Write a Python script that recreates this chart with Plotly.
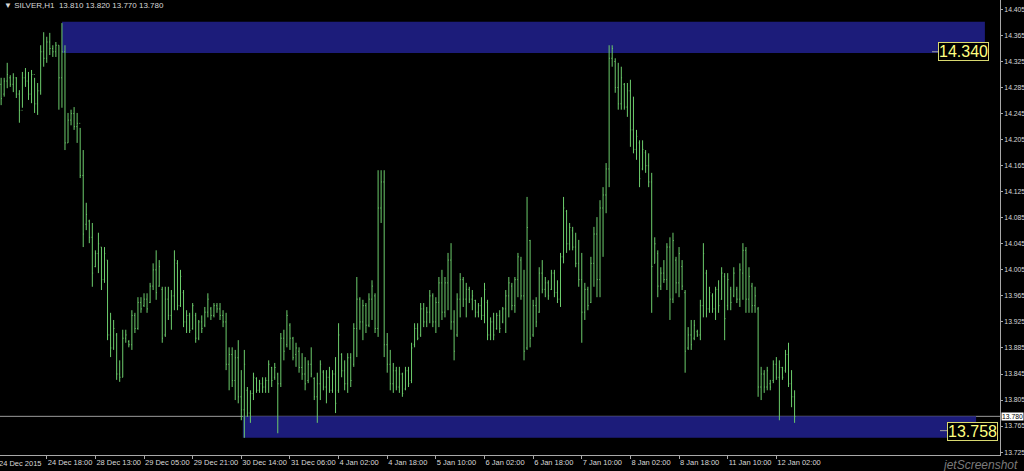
import plotly.graph_objects as go

# ---------------- data (SILVER, H1) ----------------
open_ = [
    14.270, 14.290, 14.275, 14.295, 14.300, 14.290, 14.300, 14.275, 14.250, 14.300,
    14.295, 14.275, 14.305, 14.260, 14.280, 14.340, 14.330, 14.355, 14.345, 14.340,
    14.350, 14.300, 14.340, 14.200, 14.235, 14.245, 14.225, 14.230, 14.150, 14.075,
    14.080, 14.055, 14.010, 14.030, 14.040, 13.990, 14.020, 13.905, 13.885, 13.905,
    13.845, 13.840, 13.900, 13.895, 13.890, 13.935, 13.915, 13.955, 13.950, 13.960,
    13.955, 13.980, 14.005, 13.980, 13.975, 13.905, 13.960, 13.935, 13.965, 14.015,
    13.950, 13.970, 13.925, 13.935, 13.915, 13.935, 13.900, 13.925, 13.920, 13.940,
    13.945, 13.935, 13.950, 13.945, 13.935, 13.925, 13.860, 13.875, 13.835, 13.870,
    13.810, 13.790, 13.820, 13.785, 13.815, 13.838, 13.820, 13.830, 13.825, 13.835,
    13.855, 13.840, 13.845, 13.830, 13.900, 13.890, 13.920, 13.900, 13.875, 13.880,
    13.855, 13.845, 13.835, 13.860, 13.838, 13.810, 13.830, 13.848, 13.825, 13.840,
    13.820, 13.845, 13.820, 13.875, 13.850, 13.830, 13.870, 13.860, 13.915, 13.960,
    13.925, 13.950, 13.920, 13.960, 13.965, 13.915, 14.100, 14.140, 13.890, 13.860,
    13.830, 13.850, 13.825, 13.845, 13.822, 13.850, 13.835, 13.890, 13.915, 13.905,
    13.945, 13.925, 13.940, 13.965, 13.925, 13.955, 13.985, 13.940, 13.985, 14.020,
    13.925, 13.905, 13.960, 13.990, 13.960, 13.975, 13.960, 13.958, 13.940, 13.950,
    13.935, 13.955, 13.905, 13.925, 13.915, 13.935, 13.925, 13.945, 13.965, 13.980,
    13.950, 13.990, 14.020, 13.965, 13.885, 14.050, 13.905, 13.950, 13.940, 14.000,
    13.975, 13.985, 13.975, 14.000, 13.970, 13.960, 14.025, 14.095, 14.045, 14.065,
    14.040, 14.015, 13.990, 13.940, 13.975, 13.955, 14.015, 14.060, 13.990, 14.100,
    14.120, 14.160, 14.330, 14.325, 14.285, 14.260, 14.290, 14.255, 14.280, 14.220,
    14.190, 14.200, 14.160, 14.185, 14.165, 14.140, 14.015, 14.030, 13.980, 14.000,
    13.990, 14.040, 13.960, 14.020, 13.985, 14.010, 13.970, 13.885, 13.905, 13.900,
    13.910, 13.905, 13.950, 14.000, 13.945, 13.965, 13.945, 13.975, 13.960, 13.995,
    13.950, 13.975, 13.965, 13.975, 13.960, 14.000, 14.035, 13.960, 13.980, 13.950,
    13.945, 13.825, 13.845, 13.825, 13.830, 13.835, 13.860, 13.840, 13.855, 13.850,
    13.875, 13.830, 13.810,
]

high = [
    14.297, 14.300, 14.300, 14.323, 14.304, 14.307, 14.301, 14.281, 14.309, 14.315,
    14.309, 14.312, 14.300, 14.292, 14.350, 14.370, 14.363, 14.369, 14.350, 14.355,
    14.350, 14.384, 14.350, 14.246, 14.251, 14.255, 14.246, 14.223, 14.189, 14.108,
    14.082, 14.077, 14.035, 14.062, 14.040, 14.040, 14.020, 13.939, 13.928, 13.908,
    13.866, 13.913, 13.913, 13.897, 13.943, 13.939, 13.963, 13.963, 13.969, 13.969,
    13.985, 14.015, 14.035, 14.020, 13.979, 13.979, 13.979, 13.974, 14.035, 14.020,
    14.005, 13.974, 13.943, 13.939, 13.954, 13.939, 13.928, 13.935, 13.948, 13.969,
    13.948, 13.954, 13.954, 13.954, 13.943, 13.939, 13.886, 13.886, 13.882, 13.897,
    13.851, 13.882, 13.825, 13.820, 13.847, 13.840, 13.836, 13.840, 13.840, 13.866,
    13.856, 13.862, 13.847, 13.908, 13.913, 13.943, 13.923, 13.902, 13.893, 13.886,
    13.877, 13.871, 13.866, 13.886, 13.840, 13.847, 13.866, 13.851, 13.851, 13.856,
    13.851, 13.871, 13.923, 13.877, 13.866, 13.877, 13.877, 13.923, 13.994, 13.963,
    13.959, 13.954, 13.969, 13.989, 13.969, 14.158, 14.158, 14.158, 13.908, 13.882,
    13.862, 13.856, 13.856, 13.847, 13.856, 13.856, 13.893, 13.923, 13.923, 13.954,
    13.954, 13.948, 13.974, 13.969, 13.963, 13.994, 14.005, 13.994, 14.031, 14.046,
    13.943, 13.969, 14.000, 13.994, 13.985, 13.979, 13.974, 13.959, 13.954, 13.963,
    13.985, 13.959, 13.932, 13.939, 13.939, 13.943, 13.948, 13.974, 13.994, 13.985,
    13.994, 14.031, 14.025, 14.005, 14.117, 14.051, 13.959, 13.963, 14.009, 14.020,
    13.994, 13.989, 14.005, 14.005, 13.989, 14.031, 14.117, 14.097, 14.077, 14.071,
    14.062, 14.051, 14.031, 13.985, 13.979, 14.025, 14.071, 14.086, 14.112, 14.132,
    14.169, 14.350, 14.350, 14.330, 14.323, 14.317, 14.292, 14.292, 14.297, 14.271,
    14.220, 14.204, 14.204, 14.189, 14.184, 14.154, 14.055, 14.035, 14.009, 14.020,
    14.046, 14.055, 14.062, 14.025, 14.040, 14.020, 13.974, 13.917, 13.928, 13.928,
    13.913, 13.959, 14.046, 14.005, 13.979, 13.969, 13.979, 13.989, 14.009, 14.000,
    14.000, 13.979, 14.009, 13.979, 14.015, 14.046, 14.040, 14.009, 13.985, 13.979,
    13.948, 13.856, 13.851, 13.856, 13.836, 13.866, 13.871, 13.866, 13.856, 13.882,
    13.893, 13.851, 13.820,
]

low = [
    14.258, 14.258, 14.271, 14.284, 14.286, 14.278, 14.269, 14.231, 14.254, 14.286,
    14.266, 14.261, 14.246, 14.243, 14.274, 14.317, 14.323, 14.335, 14.332, 14.332,
    14.251, 14.254, 14.189, 14.200, 14.227, 14.220, 14.200, 14.146, 14.040, 14.066,
    14.046, 13.979, 14.009, 14.000, 13.974, 13.985, 13.897, 13.871, 13.882, 13.836,
    13.833, 13.840, 13.893, 13.886, 13.882, 13.908, 13.913, 13.939, 13.948, 13.939,
    13.954, 13.974, 13.959, 13.979, 13.893, 13.902, 13.928, 13.913, 13.943, 13.943,
    13.948, 13.917, 13.908, 13.908, 13.913, 13.893, 13.897, 13.908, 13.917, 13.932,
    13.928, 13.932, 13.939, 13.928, 13.917, 13.851, 13.820, 13.825, 13.805, 13.800,
    13.774, 13.747, 13.779, 13.770, 13.805, 13.816, 13.816, 13.816, 13.816, 13.816,
    13.825, 13.836, 13.754, 13.825, 13.866, 13.886, 13.882, 13.866, 13.856, 13.847,
    13.836, 13.820, 13.831, 13.840, 13.805, 13.770, 13.805, 13.820, 13.800, 13.816,
    13.816, 13.785, 13.816, 13.840, 13.820, 13.816, 13.825, 13.856, 13.871, 13.913,
    13.897, 13.908, 13.917, 13.928, 13.908, 13.902, 14.077, 13.871, 13.847, 13.820,
    13.816, 13.820, 13.816, 13.810, 13.820, 13.825, 13.831, 13.886, 13.897, 13.902,
    13.917, 13.917, 13.923, 13.917, 13.908, 13.917, 13.928, 13.932, 13.943, 13.913,
    13.866, 13.902, 13.932, 13.948, 13.932, 13.954, 13.943, 13.932, 13.932, 13.928,
    13.923, 13.897, 13.897, 13.897, 13.913, 13.908, 13.923, 13.908, 13.932, 13.943,
    13.939, 13.963, 13.959, 13.866, 13.882, 13.886, 13.902, 13.917, 13.939, 13.969,
    13.963, 13.959, 13.974, 13.963, 13.954, 13.948, 14.015, 14.031, 14.035, 14.035,
    14.009, 13.979, 13.893, 13.928, 13.943, 13.954, 13.979, 13.963, 13.963, 14.025,
    14.092, 14.132, 14.317, 14.277, 14.251, 14.251, 14.251, 14.240, 14.194, 14.184,
    14.174, 14.132, 14.158, 14.154, 14.132, 13.939, 14.015, 13.963, 13.974, 13.985,
    13.974, 13.928, 13.954, 13.969, 13.963, 13.974, 13.847, 13.882, 13.882, 13.897,
    13.902, 13.897, 13.932, 13.932, 13.939, 13.939, 13.928, 13.939, 13.959, 13.897,
    13.943, 13.943, 13.963, 13.954, 13.948, 13.959, 13.939, 13.939, 13.939, 13.939,
    13.810, 13.805, 13.816, 13.820, 13.820, 13.831, 13.836, 13.774, 13.836, 13.847,
    13.825, 13.794, 13.770,
]

close = [
    14.290, 14.268, 14.295, 14.305, 14.290, 14.300, 14.275, 14.250, 14.300, 14.295,
    14.275, 14.305, 14.260, 14.280, 14.340, 14.330, 14.355, 14.345, 14.340, 14.350,
    14.300, 14.340, 14.200, 14.235, 14.245, 14.225, 14.230, 14.150, 14.060, 14.090,
    14.055, 14.000, 14.030, 14.045, 13.990, 14.030, 13.905, 13.885, 13.915, 13.845,
    13.840, 13.900, 13.905, 13.890, 13.935, 13.915, 13.955, 13.945, 13.960, 13.945,
    13.980, 14.005, 13.970, 14.010, 13.900, 13.960, 13.935, 13.965, 14.020, 13.950,
    13.995, 13.925, 13.935, 13.912, 13.950, 13.900, 13.925, 13.915, 13.940, 13.960,
    13.935, 13.950, 13.945, 13.935, 13.925, 13.860, 13.875, 13.835, 13.870, 13.810,
    13.790, 13.860, 13.785, 13.815, 13.840, 13.820, 13.830, 13.825, 13.835, 13.860,
    13.835, 13.855, 13.830, 13.900, 13.880, 13.935, 13.900, 13.870, 13.885, 13.855,
    13.845, 13.830, 13.860, 13.845, 13.810, 13.830, 13.860, 13.825, 13.840, 13.820,
    13.845, 13.800, 13.905, 13.850, 13.830, 13.870, 13.835, 13.915, 13.960, 13.925,
    13.950, 13.920, 13.960, 13.980, 13.915, 14.100, 14.140, 13.890, 13.860, 13.830,
    13.850, 13.825, 13.845, 13.815, 13.850, 13.830, 13.885, 13.915, 13.900, 13.945,
    13.925, 13.940, 13.965, 13.925, 13.955, 13.985, 13.940, 13.985, 14.020, 13.925,
    13.880, 13.960, 13.990, 13.960, 13.975, 13.960, 13.965, 13.940, 13.950, 13.935,
    13.975, 13.905, 13.925, 13.905, 13.935, 13.915, 13.945, 13.965, 13.985, 13.950,
    13.990, 14.025, 13.965, 13.880, 14.070, 13.900, 13.950, 13.925, 14.000, 13.975,
    13.985, 13.965, 14.000, 13.970, 13.960, 14.025, 14.100, 14.045, 14.070, 14.040,
    14.015, 13.990, 13.940, 13.975, 13.950, 14.015, 14.060, 13.990, 14.100, 14.120,
    14.160, 14.330, 14.345, 14.285, 14.260, 14.300, 14.255, 14.280, 14.220, 14.190,
    14.210, 14.145, 14.190, 14.165, 14.140, 14.010, 14.045, 13.980, 14.000, 13.990,
    14.040, 13.960, 14.050, 13.985, 14.030, 13.980, 13.880, 13.905, 13.890, 13.920,
    13.905, 13.950, 14.030, 13.945, 13.970, 13.945, 13.975, 13.950, 14.000, 13.930,
    13.990, 13.955, 14.000, 13.960, 14.005, 14.035, 13.960, 13.995, 13.950, 13.965,
    13.825, 13.845, 13.825, 13.850, 13.825, 13.860, 13.840, 13.855, 13.840, 13.875,
    13.830, 13.810, 13.780,
]

bar_index = list(range(len(close)))

# time-axis labels (one every 16 bars)
time_tick_index = [0, 16, 32, 48, 64, 80, 96, 112, 128, 144, 160, 176, 192, 208, 224, 240, 256]
time_tick_labels = [
    "24 Dec 2015", "24 Dec 18:00", "28 Dec 13:00", "29 Dec 05:00", "29 Dec 21:00",
    "30 Dec 14:00", "31 Dec 06:00", "4 Jan 02:00", "4 Jan 18:00", "5 Jan 10:00",
    "6 Jan 02:00", "6 Jan 18:00", "7 Jan 10:00", "8 Jan 02:00", "8 Jan 18:00",
    "11 Jan 10:00", "12 Jan 02:00",
]

price_ticks = [13.725, 13.765, 13.805, 13.845, 13.885, 13.925, 13.965, 14.005, 14.045,
               14.085, 14.125, 14.165, 14.205, 14.245, 14.285, 14.325, 14.365, 14.405]

# drawn zones / levels
resistance_zone = (14.338, 14.386)
resistance_span = (21, 324.6)
support_zone = (13.747, 13.780)
support_span = (80.5, 321.7)
resistance_level = 14.340
support_level = 13.758
bid_price = 13.780
symbol = "SILVER,H1"

# ---------------- figure ----------------
BAR_GREEN = "#6ccc6c"
ZONE_BLUE = "#1c1c7a"
AXIS_GRAY = "#a8a8a8"
TEXT_COL = "#d8d8d8"
FONT = "Liberation Sans, Arial, sans-serif"

fig = go.Figure()
fig.add_trace(go.Ohlc(
    x=bar_index, open=open_, high=high, low=low, close=close,
    increasing=dict(line=dict(color=BAR_GREEN, width=1)),
    decreasing=dict(line=dict(color=BAR_GREEN, width=1)),
    tickwidth=0.25, hoverinfo="skip", showlegend=False,
))

shapes = [
    dict(type="rect", xref="x", yref="y", x0=resistance_span[0], x1=resistance_span[1],
         y0=resistance_zone[0], y1=resistance_zone[1], fillcolor=ZONE_BLUE,
         line=dict(width=0), layer="below"),
    dict(type="rect", xref="x", yref="y", x0=support_span[0], x1=support_span[1],
         y0=support_zone[0], y1=support_zone[1], fillcolor=ZONE_BLUE,
         line=dict(width=0), layer="below"),
    dict(type="line", xref="paper", yref="y", x0=0, x1=1, y0=bid_price, y1=bid_price,
         line=dict(color="#9c9c9c", width=1), layer="below"),
    dict(type="line", xref="paper", yref="y", x0=0.932, x1=0.940,
         y0=resistance_level, y1=resistance_level, line=dict(color="#a0a0a0", width=1)),
    dict(type="line", xref="paper", yref="y", x0=0.940, x1=0.948,
         y0=support_level, y1=support_level, line=dict(color="#a0a0a0", width=1)),
]

annotations = [
    dict(xref="paper", yref="paper", x=0, y=1, xanchor="left", yanchor="top",
         xshift=2, yshift=1, showarrow=False,
         text=f"\u25BC {symbol}  {open_[-1]:.3f} {high[-1]:.3f} {low[-1]:.3f} {close[-1]:.3f}",
         font=dict(family=FONT, size=8, color=TEXT_COL)),
    dict(xref="paper", yref="paper", x=0, y=0, xanchor="left", yanchor="top",
         xshift=-3, yshift=-2, showarrow=False, text=time_tick_labels[0],
         font=dict(family=FONT, size=7.5, color=TEXT_COL)),
    dict(xref="paper", yref="y", x=0.963, y=resistance_level, xanchor="center",
         yanchor="middle", showarrow=False, text=f"{resistance_level:.3f}",
         font=dict(family=FONT, size=16, color="#ffff80"), bgcolor="#000000",
         bordercolor="#d8d870", borderwidth=1, borderpad=0),
    dict(xref="paper", yref="y", x=0.972, y=support_level - 0.001, xanchor="center",
         yanchor="middle", showarrow=False, text=f"{support_level:.3f}",
         font=dict(family=FONT, size=16, color="#ffff80"), bgcolor="#000000",
         bordercolor="#d8d870", borderwidth=1, borderpad=0),
    dict(xref="paper", yref="y", x=1, y=bid_price, xanchor="left", yanchor="middle",
         xshift=1, showarrow=False, text=f"{bid_price:.3f}",
         font=dict(family=FONT, size=6.8, color="#000000"), bgcolor="#ffffff",
         borderpad=0),
    dict(xref="paper", yref="paper", x=1, y=0, xanchor="right", yanchor="top",
         xshift=20, yshift=-1, showarrow=False, text="<i>jetScreenshot</i>",
         font=dict(family=FONT, size=12, color="#7a7a7a")),
]

fig.update_layout(
    width=1024, height=471,
    margin=dict(l=0, r=24, t=0, b=16, autoexpand=False),
    paper_bgcolor="#000000", plot_bgcolor="#000000",
    shapes=shapes, annotations=annotations,
    showlegend=False, hovermode=False,
    xaxis=dict(
        range=[0.625, 329.57], rangeslider=dict(visible=False),
        tickmode="array", tickvals=time_tick_index, ticktext=time_tick_labels,
        ticks="outside", ticklen=3, tickcolor=AXIS_GRAY, ticklabelposition="outside right",
        tickangle=0, automargin=False,
        showline=True, linecolor=AXIS_GRAY, linewidth=1, mirror=False,
        showgrid=False, zeroline=False,
        tickfont=dict(family=FONT, size=7.5, color=TEXT_COL),
    ),
    yaxis=dict(
        range=[13.7206, 14.4195], side="right", automargin=False,
        tickmode="array", tickvals=price_ticks, ticktext=[f"{v:.3f}" for v in price_ticks],
        ticks="outside", ticklen=2, tickcolor=AXIS_GRAY,
        showline=True, linecolor=AXIS_GRAY, linewidth=1,
        showgrid=False, zeroline=False,
        tickfont=dict(family=FONT, size=6.8, color=TEXT_COL),
    ),
)

fig.write_html(
    "out.html",
    config={"displayModeBar": False, "staticPlot": True},
    post_script="document.body.style.margin='0';document.body.style.padding='0';"
                "document.body.style.background='#000';document.body.style.overflow='hidden';",
)
